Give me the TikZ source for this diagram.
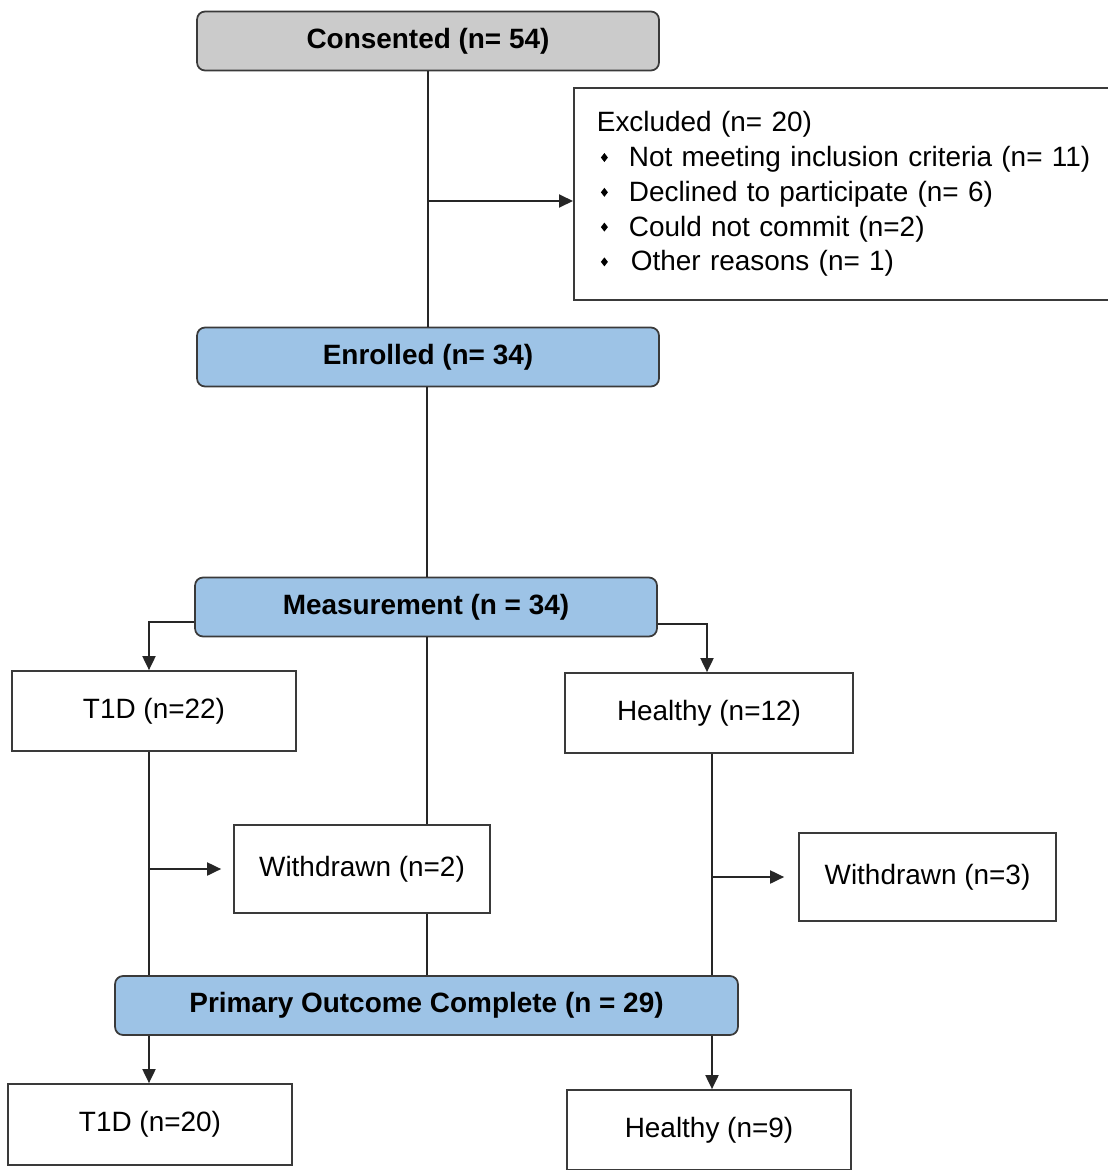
\documentclass[tikz,border=0pt]{standalone}
\usepackage{fontspec}
\setmainfont{Liberation Sans}
\usetikzlibrary{arrows.meta}
\definecolor{boxgray}{HTML}{CBCBCB}
\definecolor{boxblue}{HTML}{9DC3E6}
\definecolor{edge}{HTML}{3A3A3A}
\newcommand{\dmd}{\raisebox{0.3ex}{\tikz[x=1cm,y=1cm]\fill (0,0.09cm)--(0.07cm,0)--(0,-0.09cm)--(-0.07cm,0)--cycle;}}
\newcommand{\bl}[1]{\makebox[0.64cm][l]{\hspace{0.08cm}\dmd}#1}
\begin{document}
\begin{tikzpicture}[x=0.02cm,y=-0.02cm,
  every node/.style={font=\fontsize{15.9}{19.8}\selectfont},
  stage/.style={draw=edge,line width=1pt,rounded corners=0.16cm,inner sep=0pt,
    font=\fontsize{15.9}{19.8}\selectfont\bfseries,minimum width=9.24cm,minimum height=1.18cm},
  plainbox/.style={draw=edge,line width=1pt,fill=white,inner sep=0pt,minimum height=1.6cm},
  conn/.style={line width=1.1pt,draw=black!85},
  arr/.style={conn,-{Triangle[length=0.28cm,width=0.26cm]}}]
\useasboundingbox (0,0) rectangle (1108,1170);

\node[stage,fill=boxgray] (cons) at (428,41) {Consented (n= 54)};
\node[draw=edge,line width=1pt,inner xsep=0.46cm,inner ysep=0pt,text width=10.6cm,
  align=left,minimum height=4.24cm,anchor=west] (excl) at (573,194)
  {Excluded (n= 20)\\
   \bl{Not meeting inclusion criteria (n= 11)}\\
   \bl{Declined to participate (n= 6)}\\
   \bl{Could not commit (n=2)}\\
   \bl{\hspace{0.04cm}Other reasons (n= 1)}};
\node[stage,fill=boxblue] (enr) at (428,357) {Enrolled (n= 34)};
\node[stage,fill=boxblue] (meas) at (426,607) {Measurement (n = 34)};
\node[plainbox,minimum width=5.68cm] (t1da) at (154,711) {T1D (n=22)};
\node[plainbox,minimum width=5.76cm] (hla) at (709,713) {Healthy (n=12)};
\node[plainbox,minimum width=5.12cm,minimum height=1.76cm] (wa) at (362,869) {Withdrawn (n=2)};
\node[plainbox,minimum width=5.14cm,minimum height=1.76cm] (wb) at (927.5,877) {Withdrawn (n=3)};
\node[stage,fill=boxblue,minimum width=12.46cm] (prim) at (426.5,1005.5) {Primary Outcome Complete (n = 29)};
\node[plainbox,minimum width=5.68cm,minimum height=1.62cm] (t1db) at (150,1124.5) {T1D (n=20)};
\node[plainbox,minimum width=5.68cm] (hlb) at (709,1130) {Healthy (n=9)};

\coordinate (colL) at (149,0);
\coordinate (colM) at (427,0);
\coordinate (colR) at (712,0);
\coordinate (exc) at (428,201);

\draw[conn] (cons.south) -- (enr.north);
\draw[arr] (exc) -- (exc -| excl.west);
\draw[conn] (enr.south -| colM) -- (meas.north -| colM);
\draw[arr] (meas.west |- 0,622) -| (t1da.north -| colL);
\draw[arr] (meas.east |- 0,624) -| (hla.north -| 707,0);
\draw[conn] (meas.south -| colM) -- (wa.north -| colM);
\draw[conn] (wa.south -| colM) -- (prim.north -| colM);
\draw[conn] (t1da.south -| colL) -- (prim.north -| colL);
\draw[arr] (colL |- wa.west) -- ([xshift=-0.24cm]wa.west);
\draw[conn] (hla.south -| colR) -- (prim.north -| colR);
\draw[arr] (colR |- wb.west) -- ([xshift=-0.28cm]wb.west);
\draw[arr] (prim.south -| colL) -- (t1db.north -| colL);
\draw[arr] (prim.south -| colR) -- (hlb.north -| colR);
\end{tikzpicture}
\end{document}
